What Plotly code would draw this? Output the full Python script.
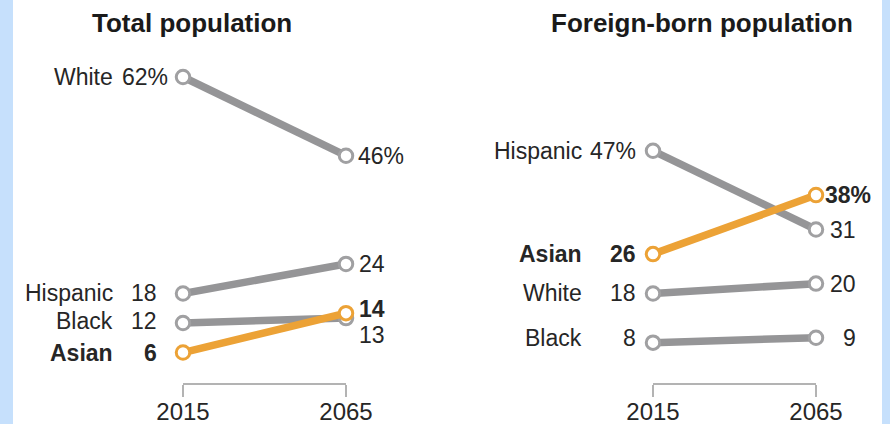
import plotly.graph_objects as go

years = [2015, 2065]
tick_labels = ["2015", "2065"]

total_groups = ["White", "Hispanic", "Black", "Asian"]
total_2015 = [62, 18, 12, 6]
total_2065 = [46, 24, 13, 14]

fb_groups = ["Hispanic", "Asian", "White", "Black"]
fb_2015 = [47, 26, 18, 8]
fb_2065 = [31, 38, 20, 9]

panel_titles = ["Total population", "Foreign-born population"]

GRAY = "#959597"
MARK_GRAY = "#a0a0a2"
ORANGE = "#eca236"
TEXT = "#262626"
FONT = "Liberation Sans"
W, H = 890, 424

fig = go.Figure()

panels = [
    dict(groups=total_groups, v0=total_2015, v1=total_2065, xa="x", ya="y",
         dom=[183 / W, 346 / W], name_dx=-68, val_dx=-24, pct_dx0=-13,
         r_dx=41, pct_dx1=60, tx=192 / W,
         yshift0={"Black": 2}, yshift1={"Black": -17, "Asian": 4}),
    dict(groups=fb_groups, v0=fb_2015, v1=fb_2065, xa="x2", ya="y2",
         dom=[653 / W, 816 / W], name_dx=-69, val_dx=-15, pct_dx0=-15,
         r_dx=42, pct_dx1=57, tx=702 / W,
         yshift0={"Black": 5}, yshift1={}),
]

annotations = []
for pi, p in enumerate(panels):
    order = [g for g in p["groups"] if g != "Asian"] + ["Asian"]
    for g in order:
        i = p["groups"].index(g)
        col = ORANGE if g == "Asian" else GRAY
        mcol = ORANGE if g == "Asian" else MARK_GRAY
        fig.add_trace(go.Scatter(
            x=years, y=[p["v0"][i], p["v1"][i]], xaxis=p["xa"], yaxis=p["ya"],
            mode="lines+markers", cliponaxis=False, showlegend=False, hoverinfo="skip",
            line=dict(color=col, width=7.5),
            marker=dict(size=13.5, color="white", line=dict(color=mcol, width=3)),
        ))
    max0 = max(p["v0"])
    max1 = max(p["v1"])
    for i, g in enumerate(p["groups"]):
        bold = g == "Asian"
        fnt = dict(family=FONT, size=23, color=TEXT)

        def wrap(t):
            return f"<b>{t}</b>" if bold else t
        ys0 = p["yshift0"].get(g, 0)
        ys1 = p["yshift1"].get(g, 0)
        # category name
        annotations.append(dict(xref=p["xa"], yref=p["ya"], x=years[0], y=p["v0"][i],
                                text=wrap(g), showarrow=False, xanchor="right", yanchor="middle",
                                xshift=p["name_dx"], yshift=ys0, font=fnt))
        # 2015 value
        pct0 = p["v0"][i] == max0
        t0 = f"{p['v0'][i]}%" if pct0 else f"{p['v0'][i]}"
        annotations.append(dict(xref=p["xa"], yref=p["ya"], x=years[0], y=p["v0"][i],
                                text=wrap(t0), showarrow=False, xanchor="right", yanchor="middle",
                                xshift=p["pct_dx0"] if pct0 else p["val_dx"], yshift=ys0, font=fnt))
        # 2065 value
        pct1 = p["v1"][i] == max1
        t1 = f"{p['v1'][i]}%" if pct1 else f"{p['v1'][i]}"
        annotations.append(dict(xref=p["xa"], yref=p["ya"], x=years[1], y=p["v1"][i],
                                text=wrap(t1), showarrow=False, xanchor="right", yanchor="middle",
                                xshift=p["pct_dx1"] if pct1 else p["r_dx"], yshift=ys1, font=fnt))
    annotations.append(dict(xref="paper", yref="paper", x=p["tx"], y=1 - 23 / H,
                            text=f"<b>{panel_titles[pi]}</b>", showarrow=False,
                            xanchor="center", yanchor="middle",
                            font=dict(family=FONT, size=26, color="#1a1a1a")))

axis_x = dict(range=[2015, 2065], showgrid=False, zeroline=False, showline=True,
              linecolor="#b3b3b3", linewidth=1.5, ticks="outside", ticklen=12,
              tickcolor="#b3b3b3", tickwidth=1.5, tickvals=years, ticktext=tick_labels,
              tickfont=dict(family=FONT, size=24, color=TEXT), fixedrange=True,
              automargin=False, ticklabelstandoff=-6)
axis_y = dict(range=[-0.2, 77.65], visible=False, domain=[41 / H, 1], fixedrange=True,
              automargin=False)

shapes = [
    dict(type="rect", xref="paper", yref="paper", x0=0, x1=13 / W, y0=0, y1=1,
         fillcolor="#c6e0fc", line=dict(width=0), layer="below"),
    dict(type="rect", xref="paper", yref="paper", x0=882 / W, x1=1, y0=0, y1=1,
         fillcolor="#c6e0fc", line=dict(width=0), layer="below"),
    # leader line for the hidden Black 2065 point (total population)
    dict(type="path", xref="x", yref="y", xsizemode="pixel", ysizemode="pixel",
         xanchor=years[1], yanchor=total_2065[total_groups.index("Black")],
         path="M 1,-9 L 1,-19 L 6,-19", line=dict(color="#b3b3b3", width=1.5)),
]

fig.update_layout(
    width=W, height=H, margin=dict(l=0, r=0, t=0, b=0, autoexpand=False),
    paper_bgcolor="white", plot_bgcolor="white",
    xaxis=dict(axis_x, domain=panels[0]["dom"], anchor="y"),
    yaxis=dict(axis_y, anchor="x"),
    xaxis2=dict(axis_x, domain=panels[1]["dom"], anchor="y2"),
    yaxis2=dict(axis_y, anchor="x2"),
    annotations=annotations, shapes=shapes,
)

fig.write_html(
    "out.html",
    config={"responsive": False, "displayModeBar": False},
    post_script="document.body.style.margin='0';document.body.style.overflow='hidden';",
)
